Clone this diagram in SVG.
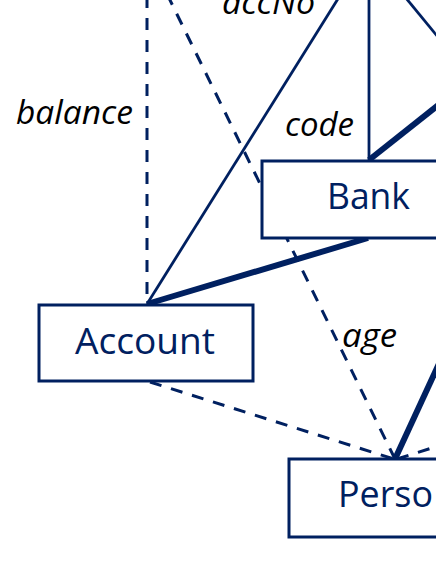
<svg xmlns="http://www.w3.org/2000/svg" width="436" height="564" viewBox="0 0 436 564">
<style>
.ln{stroke:#002060;fill:none;stroke-width:2.8}
.thick{stroke:#002060;fill:none;stroke-width:6}
.dash{stroke:#002060;fill:none;stroke-width:3;stroke-dasharray:12 10}
.box{fill:#fff;stroke:#002060;stroke-width:3}
.nt{font-family:"Open Sans","Noto Sans",sans-serif;font-size:37px;fill:#002060}
.lb{font-family:"Open Sans","Noto Sans",sans-serif;font-size:32px;font-style:italic;fill:#000}
</style>
<rect width="436" height="564" fill="#fff"/>
<g id="connectors">
<line class="dash" x1="147" y1="-4" x2="147" y2="304"/>
<line class="dash" x1="167" y1="-6" x2="395" y2="459"/>
<line class="ln" x1="147" y1="304" x2="341" y2="-6"/>
<line class="ln" x1="369" y1="-6" x2="369" y2="160"/>
<line class="ln" x1="401" y1="-8" x2="470" y2="76"/>
<line class="thick" x1="369" y1="160" x2="480" y2="72"/>
<line class="thick" x1="368" y1="238" x2="147" y2="304"/>
<line class="thick" x1="395" y1="459" x2="455" y2="329"/>
<line class="dash" x1="150" y1="382" x2="394" y2="459"/>
<line class="dash" x1="397" y1="459" x2="470" y2="436"/>
</g>
<g id="labels">
<text class="lb" x="16" y="124" textLength="117" lengthAdjust="spacingAndGlyphs">balance</text>
<text class="lb" x="222" y="14" textLength="93" lengthAdjust="spacingAndGlyphs">accNo</text>
<text class="lb" x="285" y="136" textLength="69" lengthAdjust="spacingAndGlyphs">code</text>
<text class="lb" x="342" y="347" textLength="55" lengthAdjust="spacingAndGlyphs">age</text>
</g>
<g id="Bank">
<rect class="box" x="262" y="161" width="200" height="77"/>
<text class="nt" x="327" y="209" textLength="83" lengthAdjust="spacingAndGlyphs">Bank</text>
</g>
<g id="Account">
<rect class="box" x="39" y="305" width="214" height="76"/>
<text class="nt" x="75" y="354" textLength="140" lengthAdjust="spacingAndGlyphs">Account</text>
</g>
<g id="Person">
<rect class="box" x="289" y="459" width="200" height="78"/>
<text class="nt" x="338" y="507" textLength="95" lengthAdjust="spacingAndGlyphs">Perso</text>
</g>
</svg>
